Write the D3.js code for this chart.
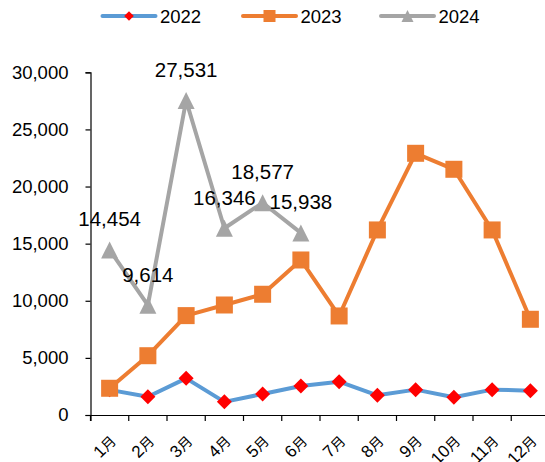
<!DOCTYPE html>
<html>
<head>
<meta charset="utf-8">
<script src="https://cdn.jsdelivr.net/npm/d3@7/dist/d3.min.js"></script>
<style>
  html, body { margin: 0; padding: 0; background: #fff; }
  svg { display: block; }
  text { font-family: Arial, "Liberation Sans", "Noto Sans CJK SC", sans-serif; fill: #000; }
</style>
</head>
<body>
<svg id="chart" width="545" height="462"></svg>
<script>
// Monthly values by year
const months = ["1月","2月","3月","4月","5月","6月","7月","8月","9月","10月","11月","12月"];
const values2022 = [2200, 1600, 3210, 1150, 1840, 2540, 2920, 1720, 2220, 1550, 2220, 2130];
const values2023 = [2340, 5190, 8700, 9630, 10570, 13570, 8670, 16200, 22910, 21510, 16200, 8380];
const values2024 = [14454, 9614, 27531, 16346, 18577, 15938];
const yTicks = [0, 5000, 10000, 15000, 20000, 25000, 30000];
const seriesNames = ["2022", "2023", "2024"];

const svg = d3.select("#chart");
const plotLeft = 90.5, plotRight = 549.5, plotTop = 72.3, plotBottom = 415;

const x = d3.scaleBand().domain(months).range([plotLeft, plotRight]);
const y = d3.scaleLinear().domain([0, 30000]).range([plotBottom, plotTop]);
const cx = m => x(m) + x.bandwidth() / 2;

// Y axis
const yAxis = svg.append("g")
  .attr("transform", `translate(${plotLeft},0)`)
  .call(d3.axisLeft(y).tickValues(yTicks).tickSize(5).tickPadding(17).tickFormat(d3.format(",")));
yAxis.selectAll("text").style("font-size", "18.5px").attr("fill", "#000");

// X axis: baseline plus ticks on the band edges
const xAxis = svg.append("g")
  .attr("transform", `translate(0,${plotBottom})`)
  .call(d3.axisBottom(x).tickSize(6).tickFormat(""));
xAxis.selectAll(".tick").remove();
const edges = months.map(m => x(m)).concat([plotRight]);
xAxis.selectAll("line.edge").data(edges).enter().append("line")
  .attr("class", "edge")
  .attr("x1", d => d).attr("x2", d => d)
  .attr("y1", 0).attr("y2", 6);
[yAxis, xAxis].forEach(g => g.selectAll("line, path").attr("stroke", "#000").attr("stroke-width", 1.2));

// Rotated month labels: numeral plus a smaller 月
const xl = svg.append("g").selectAll("text.xl").data(months).enter().append("text")
  .attr("class", "xl")
  .attr("transform", d => `translate(${cx(d) + 3},${plotBottom + 23}) rotate(-45)`)
  .attr("text-anchor", "end")
  .attr("dy", "0.35em")
  .style("font-size", "17px");
xl.append("tspan").text(d => d.slice(0, -1));
xl.append("tspan").style("font-size", "14px").text(d => d.slice(-1));

const colors = { "2022": "#5B9BD5", "2023": "#ED7D31", "2024": "#A5A5A5" };
const markerFill = { "2022": "#FF0000", "2023": "#ED7D31", "2024": "#A5A5A5" };

const line = d3.line().x(d => cx(d.m)).y(d => y(d.v));
const toPts = arr => arr.map((v, i) => ({ m: months[i], v }));

function drawMarker(g, name, px, py, s) {
  if (name === "2022") {
    g.append("path").attr("d", `M${px},${py - s}L${px + s},${py}L${px},${py + s}L${px - s},${py}Z`)
      .attr("fill", markerFill[name]);
  } else if (name === "2023") {
    g.append("rect").attr("x", px - s).attr("y", py - s).attr("width", 2 * s).attr("height", 2 * s)
      .attr("fill", markerFill[name]);
  } else {
    g.append("path").attr("d", `M${px},${py - s}L${px + s},${py + s}L${px - s},${py + s}Z`)
      .attr("fill", markerFill[name]);
  }
}

const allSeries = [
  { name: "2022", data: toPts(values2022), size: 7.5 },
  { name: "2023", data: toPts(values2023), size: 8.5 },
  { name: "2024", data: toPts(values2024), size: 8.5 }
];

allSeries.forEach(s => {
  const g = svg.append("g");
  g.append("path").datum(s.data).attr("d", line)
    .attr("fill", "none").attr("stroke", colors[s.name]).attr("stroke-width", 4)
    .attr("stroke-linejoin", "round").attr("stroke-linecap", "round");
  s.data.forEach(d => drawMarker(g, s.name, cx(d.m), y(d.v), s.size));
});

// Value labels for 2024
svg.append("g").selectAll("text.vl").data(toPts(values2024)).enter().append("text")
  .attr("class", "vl")
  .attr("x", d => cx(d.m))
  .attr("y", d => y(d.v) - 23.5)
  .attr("text-anchor", "middle")
  .style("font-size", "20.5px")
  .text(d => d3.format(",")(d.v));

// Legend
const legendX = [102.5, 243, 381];
seriesNames.forEach((name, i) => {
  const g = svg.append("g");
  const x0 = legendX[i], ly = 16;
  g.append("line").attr("x1", x0).attr("x2", x0 + 53).attr("y1", ly).attr("y2", ly)
    .attr("stroke", colors[name]).attr("stroke-width", 4).attr("stroke-linecap", "round");
  drawMarker(g, name, x0 + 26.5, ly, name === "2022" ? 4.8 : 6);
  g.append("text").attr("x", x0 + 57.5).attr("y", ly).attr("dy", "0.36em")
    .style("font-size", "18.5px").text(name);
});
</script>
</body>
</html>
